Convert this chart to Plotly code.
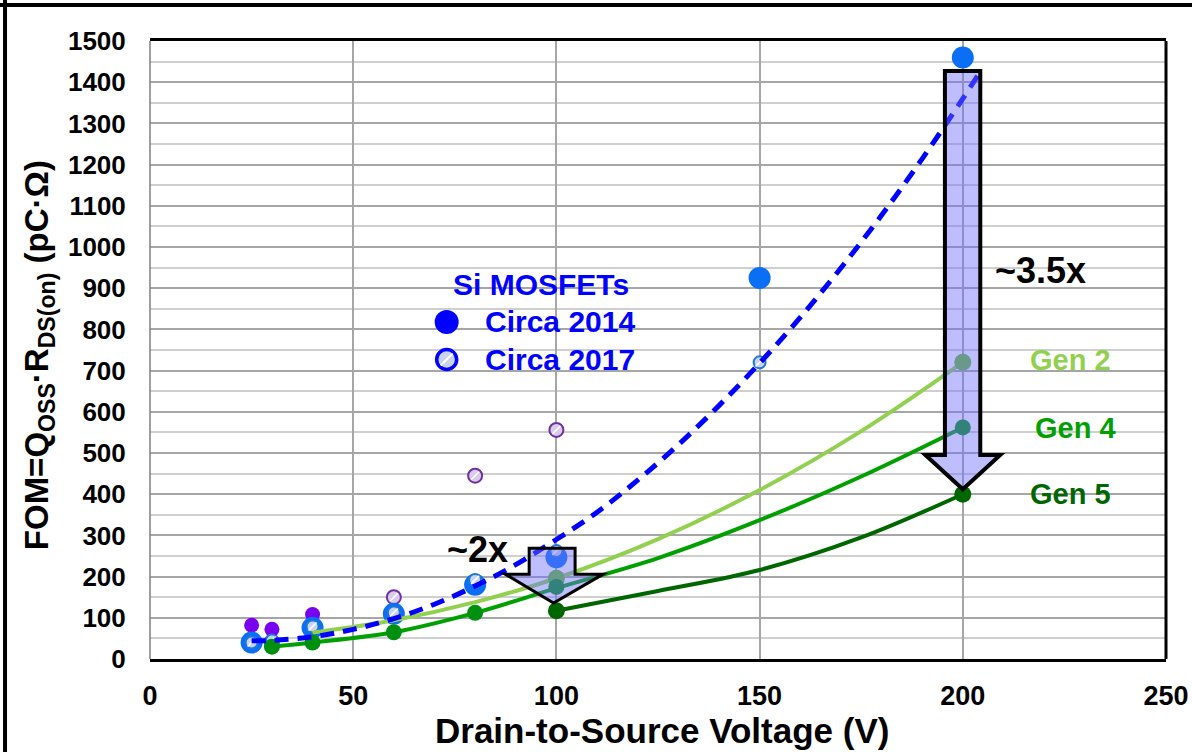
import plotly.graph_objects as go

# ---------------- data ----------------
si2014_v = [25, 40, 60, 80, 100, 150, 200]
si2014_fom = [40, 76, 110, 180, 247, 925, 1460]

si2017_v = [25, 30, 40, 60, 80, 100, 150]
si2017_fom = [40, 45, 79, 113, 192, 262, 720]

other_solid_v = [25, 30, 40]
other_solid_fom = [82, 72, 108]
other_hatch_v = [30, 60, 80, 100]
other_hatch_fom = [42, 150, 445, 556]

trend_v = [25, 30, 40, 50, 60, 70, 80, 90, 100, 110, 120, 130, 140, 150,
           160, 170, 180, 190, 200, 204]
trend_fom = [44, 45, 54, 72, 98, 133, 177, 229, 290, 356, 434, 520, 615, 718,
             829, 949, 1077, 1214, 1360, 1421]

gen2_line_v = [40, 60, 80, 100, 125, 150, 175, 200]
gen2_line_fom = [64, 94, 138, 196, 291, 410, 553, 720]
gen2_pts_v = [100, 200]
gen2_pts_fom = [196, 720]

gen4_line_v = [30, 40, 60, 80, 100, 125, 150, 175, 200]
gen4_line_fom = [30, 40, 65, 112, 172, 245, 337, 443, 562]
gen4_pts_v = [30, 40, 60, 80, 100, 200]
gen4_pts_fom = [30, 40, 65, 112, 175, 562]

gen5_line_v = [100, 125, 150, 175, 200]
gen5_line_fom = [117, 165, 216, 295, 400]
gen5_pts_v = [100, 200]
gen5_pts_fom = [117, 400]

x_ticks = [0, 50, 100, 150, 200, 250]
y_ticks = list(range(0, 1501, 100))

# ---------------- styling ----------------
FONT = "Liberation Sans, Arial, sans-serif"
BLUE14 = "#0A6FF5"
HATCH_FILL = "#C8D4EE"
PURPLE = "#7A00F0"
PURPLE_HATCH = "#D9CCEA"
GEN2 = "#92D050"
GEN2_MK = "#64BE28"
GEN4 = "#00A000"
GEN4_MK = "#009010"
GEN5 = "#006600"

fig = go.Figure()

# other-vendor points (purple)
fig.add_trace(go.Scatter(x=other_hatch_v, y=other_hatch_fom, mode="markers",
                         marker=dict(size=14, color=PURPLE_HATCH,
                                     line=dict(color="#7030A0", width=2)),
                         showlegend=False, hoverinfo="skip"))
fig.add_trace(go.Scatter(x=other_hatch_v, y=other_hatch_fom, mode="markers",
                         marker=dict(size=8, symbol="line-ne",
                                     line=dict(color="white", width=1.5)),
                         showlegend=False, hoverinfo="skip"))
fig.add_trace(go.Scatter(x=other_solid_v, y=other_solid_fom, mode="markers",
                         marker=dict(size=15, color=PURPLE),
                         showlegend=False, hoverinfo="skip"))

# Si MOSFETs circa 2014
fig.add_trace(go.Scatter(x=si2014_v, y=si2014_fom, mode="markers",
                         marker=dict(size=22, color=BLUE14),
                         showlegend=False, hoverinfo="skip"))
# Si MOSFETs circa 2017 (hatched)
fig.add_trace(go.Scatter(x=si2017_v, y=si2017_fom, mode="markers",
                         marker=dict(size=12, color=HATCH_FILL,
                                     line=dict(color="#1F78D8", width=2)),
                         showlegend=False, hoverinfo="skip"))
fig.add_trace(go.Scatter(x=si2017_v, y=si2017_fom, mode="markers",
                         marker=dict(size=8, symbol="line-ne",
                                     line=dict(color="white", width=1.5)),
                         showlegend=False, hoverinfo="skip"))

# GaN generations
fig.add_trace(go.Scatter(x=gen2_line_v, y=gen2_line_fom, mode="lines",
                         line=dict(color=GEN2, width=4, shape="spline"),
                         showlegend=False, hoverinfo="skip"))
fig.add_trace(go.Scatter(x=gen4_line_v, y=gen4_line_fom, mode="lines",
                         line=dict(color=GEN4, width=4, shape="spline"),
                         showlegend=False, hoverinfo="skip"))
fig.add_trace(go.Scatter(x=gen5_line_v, y=gen5_line_fom, mode="lines",
                         line=dict(color=GEN5, width=4, shape="spline"),
                         showlegend=False, hoverinfo="skip"))
fig.add_trace(go.Scatter(x=gen2_pts_v, y=gen2_pts_fom, mode="markers",
                         marker=dict(size=17, color=GEN2_MK),
                         showlegend=False, hoverinfo="skip"))
fig.add_trace(go.Scatter(x=gen4_pts_v, y=gen4_pts_fom, mode="markers",
                         marker=dict(size=16, color=GEN4_MK),
                         showlegend=False, hoverinfo="skip"))
fig.add_trace(go.Scatter(x=gen5_pts_v, y=gen5_pts_fom, mode="markers",
                         marker=dict(size=17, color=GEN5),
                         showlegend=False, hoverinfo="skip"))

# Si trend line (dashed)
fig.add_trace(go.Scatter(x=trend_v, y=trend_fom, mode="lines",
                         line=dict(color="#0000FF", width=5, dash="14px,9px",
                                   shape="spline"),
                         showlegend=False, hoverinfo="skip"))

# in-plot legend markers
legend_x = 73
legend_y14 = 818
legend_y17 = 727
fig.add_trace(go.Scatter(x=[legend_x], y=[legend_y14], mode="markers",
                         marker=dict(size=24, color="#0000FF"),
                         showlegend=False, hoverinfo="skip"))
fig.add_trace(go.Scatter(x=[legend_x], y=[legend_y17], mode="markers",
                         marker=dict(size=20, color=HATCH_FILL,
                                     line=dict(color="#0000FF", width=3.5)),
                         showlegend=False, hoverinfo="skip"))
fig.add_trace(go.Scatter(x=[legend_x], y=[legend_y17], mode="markers",
                         marker=dict(size=12, symbol="line-ne",
                                     line=dict(color="white", width=2)),
                         showlegend=False, hoverinfo="skip"))

# ---------------- arrows ----------------
ARROW_FILL = "rgba(110,110,255,0.45)"
big_arrow = "M 195.6,1427 L 204.3,1427 L 204.3,495 L 209.2,495 L 200,412 L 190.8,495 L 195.6,495 Z"
small_arrow = "M 93.3,269 L 104.6,269 L 104.6,206 L 111.5,206 L 99.3,136 L 87.4,206 L 93.3,206 Z"

shapes = [
    dict(type="path", path=big_arrow, xref="x", yref="y", layer="above",
         fillcolor=ARROW_FILL, line=dict(color="black", width=4)),
    dict(type="path", path=small_arrow, xref="x", yref="y", layer="above",
         fillcolor=ARROW_FILL, line=dict(color="black", width=3)),
    # right border of plot area
    dict(type="line", xref="paper", yref="paper", x0=1, x1=1, y0=0, y1=1,
         line=dict(color="black", width=3), layer="above"),
    # left border of plot area
    dict(type="line", xref="paper", yref="paper", x0=0, x1=0, y0=0, y1=1,
         line=dict(color="#7F7F7F", width=1.5), layer="above"),
    # outer picture frame (left and top)
    dict(type="line", xref="paper", yref="paper", x0=-0.1427, x1=-0.1427,
         y0=-0.16, y1=1.07, line=dict(color="black", width=4)),
    dict(type="line", xref="paper", yref="paper", x0=-0.16, x1=1.04,
         y0=1.0583, y1=1.0583, line=dict(color="black", width=4)),
]

def bold(t):
    return "<b>" + t + "</b>"

annotations = [
    dict(x=219.2, y=944, xref="x", yref="y", text=bold("~3.5x"), showarrow=False,
         font=dict(family=FONT, size=36, color="black")),
    dict(x=80.5, y=265, xref="x", yref="y", text=bold("~2x"), showarrow=False,
         font=dict(family=FONT, size=36, color="black")),
    dict(x=96.2, y=908, xref="x", yref="y", text=bold("Si MOSFETs"), showarrow=False,
         font=dict(family=FONT, size=30, color="#0000FF")),
    dict(x=81.9, y=818, xref="x", yref="y", text=bold("Circa 2014"), showarrow=False,
         xanchor="left", font=dict(family=FONT, size=30, color="#0000FF")),
    dict(x=81.9, y=727, xref="x", yref="y", text=bold("Circa 2017"), showarrow=False,
         xanchor="left", font=dict(family=FONT, size=30, color="#0000FF")),
    dict(x=216, y=726, xref="x", yref="y", text=bold("Gen 2"), showarrow=False,
         xanchor="left", font=dict(family=FONT, size=29, color=GEN2)),
    dict(x=217.3, y=561, xref="x", yref="y", text=bold("Gen 4"), showarrow=False,
         xanchor="left", font=dict(family=FONT, size=29, color=GEN4)),
    dict(x=216, y=400, xref="x", yref="y", text=bold("Gen 5"), showarrow=False,
         xanchor="left", font=dict(family=FONT, size=29, color=GEN5)),
    # axis titles
    dict(x=0.504, y=-0.115, xref="paper", yref="paper", xanchor="center",
         yanchor="middle", text=bold("Drain-to-Source Voltage (V)"), showarrow=False,
         font=dict(family=FONT, size=35, color="black")),
    dict(x=-0.109, y=0.492, xref="paper", yref="paper", textangle=-90,
         xanchor="center", yanchor="middle",
         text=bold("FOM=Q<sub>OSS</sub>·R<sub>DS(on)</sub> (pC·Ω)"), showarrow=False,
         font=dict(family=FONT, size=33, color="black")),
]

fig.update_layout(
    width=1192, height=752,
    margin=dict(l=150, r=26, t=41, b=93),
    paper_bgcolor="white", plot_bgcolor="white",
    showlegend=False,
    shapes=shapes, annotations=annotations,
    xaxis=dict(range=[0, 250], tickvals=x_ticks,
               ticktext=[bold(str(v)) for v in x_ticks],
               tickfont=dict(family=FONT, size=27, color="black"),
               ticks="outside", ticklen=11, tickcolor="rgba(0,0,0,0)",
               showgrid=True, gridcolor="#A6A6A6", gridwidth=1.5,
               zeroline=False, showline=True, linecolor="black",
               linewidth=3, mirror=True, fixedrange=True, automargin=False),
    yaxis=dict(range=[0, 1500], tickvals=y_ticks,
               ticktext=[bold(str(v)) for v in y_ticks],
               tickfont=dict(family=FONT, size=26, color="black"),
               ticks="outside", ticklen=18, tickcolor="rgba(0,0,0,0)",
               showgrid=True, gridcolor="#A6A6A6", gridwidth=1.5,
               minor=dict(dtick=50, showgrid=True, gridcolor="#CFCFCF", gridwidth=1.5),
               zeroline=False, showline=False, fixedrange=True, automargin=False),
)

fig.write_html("out.html")
